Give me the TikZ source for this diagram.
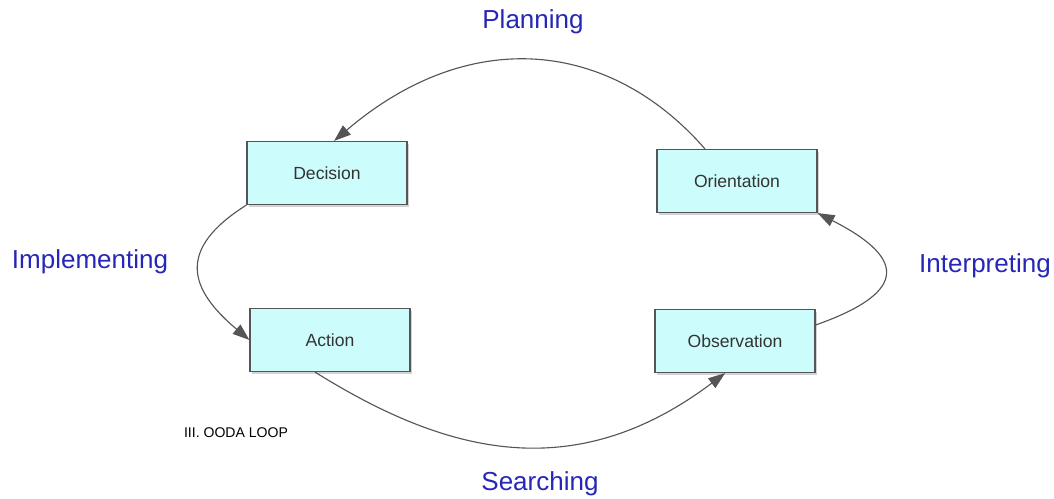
\documentclass[tikz,border=0pt]{standalone}
\usepackage{fontspec}
\setmainfont{Liberation Sans}
\usetikzlibrary{positioning,arrows.meta,shadows}

\definecolor{boxfill}{HTML}{CCFCFC}
\definecolor{phaseblue}{HTML}{2626B8}
\definecolor{linegray}{HTML}{555555}

\tikzset{
  stage/.style={draw=linegray, fill=boxfill, line width=0.8pt,
    minimum width=4cm, minimum height=1.575cm,
    font=\fontsize{12.5}{14}\selectfont, text=black!80,
    drop shadow={shadow xshift=0.6mm, shadow yshift=-0.6mm, opacity=0.35}},
  phase/.style={text=phaseblue, font=\fontsize{18.5}{22}\selectfont},
  flow/.style={draw=linegray, line width=0.8pt,
    -{Triangle[length=12pt,width=8.5pt]}}
}

\begin{document}
\begin{tikzpicture}[x=0.025cm,y=-0.025cm]
   \useasboundingbox (0,0) rectangle (1054,499);

   \node[stage] (decision) at (327,173) {Decision};
   \node[stage] (orient) at (737,181) {Orientation};
   \node[stage] (action) at (330,340) {Action};
   \node[stage] (observe) at (735,341) {Observation};

   \node[phase] (plan) at (533,22) {Planning};
   \node[phase] (impl) at (90,262) {Implementing};
   \node[phase] (interp) at (985,266) {Interpreting};
   \node[phase] (search) at (540,484) {Searching};

   \node[font=\fontsize{10}{12}\selectfont] (title) at (236,433) {III. OODA LOOP};

   \draw[flow] (orient.north) ++(-32,0) coordinate (o1)
      .. controls (610,40) and (470,25) .. ([xshift=5]decision.north);
   \draw[flow] (decision.south west) ++(0,0) coordinate (d1)
      .. controls (175,250) and (190,290) .. (action.west);
   \draw[flow] (action.south) ++(-15,0) coordinate (a1)
      .. controls (440,450) and (570,490) .. ([xshift=-7]observe.south);
   \draw[flow] (observe.east) ++(0,-16) coordinate (b1)
      .. controls (915,290) and (900,255) .. (orient.south east);
\end{tikzpicture}
\end{document}
